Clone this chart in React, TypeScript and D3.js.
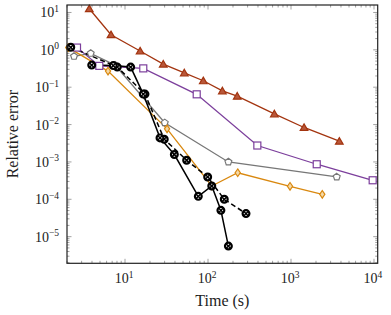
import React from "react";
import * as d3 from "d3";

const brownTime = [3.71, 6.78, 15.2, 28.9, 51.8, 87.7, 149, 225, 630, 1436, 3820];
const brownErr = [12.6, 2.54, 0.93, 0.416, 0.243, 0.149, 0.08, 0.0577, 0.0194, 0.00836, 0.00359];

const purpleTime = [2.64, 4.9, 16.6, 73.1, 393, 2042, 9640];
const purpleErr = [1.15, 0.372, 0.319, 0.0645, 0.00275, 0.000867, 0.000323];

const grayTime = [2.43, 3.86, 7.58, 30.1, 176, 3556];
const grayErr = [0.67, 0.805, 0.391, 0.0112, 0.001, 0.000396];

const orangeTime = [2.07, 6.24, 32.1, 111, 228, 973, 2382];
const orangeErr = [1.15, 0.27, 0.00767, 0.000227, 0.000513, 0.000223, 0.000136];

const blackSolidTime = [3.97, 7.22, 11.7, 16.6, 26.4, 39.3, 76.4, 111, 143, 176];
const blackSolidErr = [0.391, 0.379, 0.346, 0.0653, 0.0044, 0.00158, 0.00012, 0.000227, 5.07e-5, 5.6e-6];

const blackDashedTime = [2.22, 8.07, 17.4, 29.7, 55.3, 99.1, 157, 287];
const blackDashedErr = [1.17, 0.346, 0.0653, 0.00406, 0.00111, 0.000396, 0.0001, 4.14e-5];

const xTickExps = [1, 2, 3, 4];
const yTickExps = [1, 0, -1, -2, -3, -4, -5];
const xLabel = "Time (s)";
const yLabel = "Relative error";

const W = 391, H = 315;
const L = 67, R = 377.7, T = 5, B = 263.3;
const FONT = "Liberation Serif, serif";

const x = d3.scaleLog().domain([Math.pow(10, 0.301), Math.pow(10, 4.0446)]).range([L, R]);
const y = d3.scaleLog().domain([Math.pow(10, -5.713), Math.pow(10, 1.2)]).range([B, T]);

const line = d3.line<[number, number]>().x(d => x(d[0])).y(d => y(d[1]));

function pts(t: number[], e: number[]): [number, number][] {
  return t.map((v, i) => [v, e[i]]);
}

function fmtExp(n: number) {
  return n < 0 ? "\u2212" + Math.abs(n) : String(n);
}

function Marker({ kind, cx, cy, color, fill }: { kind: string; cx: number; cy: number; color: string; fill: string }) {
  if (kind === "tri") {
    const r = 4.4;
    const p = [0, 1, 2].map(k => {
      const a = -Math.PI / 2 + (k * 2 * Math.PI) / 3;
      return [cx + r * Math.cos(a), cy + 0.8 + r * Math.sin(a)];
    });
    return <path d={"M" + p.map(q => q.join(",")).join("L") + "Z"} fill={fill} stroke={color} strokeWidth={1.2} />;
  }
  if (kind === "sq") {
    const s = 3.5;
    return <rect x={cx - s} y={cy - s} width={2 * s} height={2 * s} fill={fill} stroke={color} strokeWidth={1.2} />;
  }
  if (kind === "pent") {
    const r = 3.6;
    const p = [0, 1, 2, 3, 4].map(k => {
      const a = -Math.PI / 2 + (k * 2 * Math.PI) / 5;
      return [cx + r * Math.cos(a), cy + r * Math.sin(a)];
    });
    return <path d={"M" + p.map(q => q.join(",")).join("L") + "Z"} fill={fill} stroke={color} strokeWidth={1.2} />;
  }
  if (kind === "dia") {
    const hw = 2.6, hh = 3.8;
    return (
      <path
        d={`M${cx},${cy - hh}L${cx + hw},${cy}L${cx},${cy + hh}L${cx - hw},${cy}Z`}
        fill={fill}
        stroke={color}
        strokeWidth={1.2}
      />
    );
  }
  const r = 3.4;
  const d = r * 0.7;
  return (
    <g>
      <circle cx={cx} cy={cy} r={r} fill="#fff" stroke={color} strokeWidth={2.2} />
      <path d={`M${cx - d},${cy - d}L${cx + d},${cy + d}M${cx - d},${cy + d}L${cx + d},${cy - d}`} stroke={color} strokeWidth={1.5} />
    </g>
  );
}

const series = [
  { t: brownTime, e: brownErr, color: "#a3340f", fill: "#b9573a", kind: "tri", dash: "", w: 1.3 },
  { t: purpleTime, e: purpleErr, color: "#7c3f9c", fill: "#ffffff", kind: "sq", dash: "", w: 1.3 },
  { t: grayTime, e: grayErr, color: "#777777", fill: "#ffffff", kind: "pent", dash: "", w: 1.3 },
  { t: orangeTime, e: orangeErr, color: "#d9880f", fill: "#f4d9a8", kind: "dia", dash: "", w: 1.3 },
  { t: blackDashedTime, e: blackDashedErr, color: "#000000", fill: "#fff", kind: "ot", dash: "5,3", w: 1.5 },
  { t: blackSolidTime, e: blackSolidErr, color: "#000000", fill: "#fff", kind: "ot", dash: "", w: 1.5 },
];

export default function App() {
  const minorX: number[] = [];
  for (let p = 0; p <= 4; p++) for (let m = 1; m <= 9; m++) {
    const v = m * Math.pow(10, p);
    if (v >= x.domain()[0] && v <= x.domain()[1]) minorX.push(v);
  }
  const minorY: number[] = [];
  for (let p = -6; p <= 1; p++) for (let m = 1; m <= 9; m++) {
    const v = m * Math.pow(10, p);
    if (v >= y.domain()[0] && v <= y.domain()[1]) minorY.push(v);
  }
  const tickCol = "#8a8a8a";
  const textStyle = { fontFamily: FONT };
  return (
    <svg width={W} height={H} style={{ position: "absolute", left: 0, top: 0, background: "#fff" }}>
      <rect x={0} y={0} width={W} height={H} fill="#fff" />
      {minorX.map((v, i) => {
        const major = Math.abs(Math.log10(v) - Math.round(Math.log10(v))) < 1e-9;
        const len = major ? 4.5 : 2.5;
        const xx = x(v);
        return (
          <g key={"mx" + i} stroke={tickCol} strokeWidth={0.8}>
            <line x1={xx} x2={xx} y1={B} y2={B - len} />
            <line x1={xx} x2={xx} y1={T} y2={T + len} />
          </g>
        );
      })}
      {minorY.map((v, i) => {
        const major = Math.abs(Math.log10(v) - Math.round(Math.log10(v))) < 1e-9;
        const len = major ? 4.5 : 2.5;
        const yy = y(v);
        return (
          <g key={"my" + i} stroke={tickCol} strokeWidth={0.8}>
            <line x1={L} x2={L + len} y1={yy} y2={yy} />
            <line x1={R} x2={R - len} y1={yy} y2={yy} />
          </g>
        );
      })}
      {series.map((s, i) => (
        <path key={"l" + i} d={line(pts(s.t, s.e)) || ""} fill="none" stroke={s.color} strokeWidth={s.w} strokeDasharray={s.dash || undefined} />
      ))}
      {series.map((s, i) => (
        <g key={"m" + i}>
          {pts(s.t, s.e).map((p, j) => (
            <Marker key={j} kind={s.kind} cx={x(p[0])} cy={y(p[1])} color={s.color} fill={s.fill} />
          ))}
        </g>
      ))}
      <rect x={L} y={T} width={R - L} height={B - T} fill="none" stroke="#222" strokeWidth={1.2} />
      {xTickExps.map(p => (
        <text key={"xt" + p} style={textStyle} x={x(Math.pow(10, p)) - 1} y={283} textAnchor="middle" fontSize={14} fill="#222">
          10<tspan dy={-5.5} fontSize={9.5}>{fmtExp(p)}</tspan>
        </text>
      ))}
      {yTickExps.map(p => (
        <text key={"yt" + p} style={textStyle} x={59} y={y(Math.pow(10, p)) + 5} textAnchor="end" fontSize={14} fill="#222">
          10<tspan dy={-5.5} fontSize={9.5}>{fmtExp(p)}</tspan>
        </text>
      ))}
      <text style={textStyle} x={(L + R) / 2} y={306} textAnchor="middle" fontSize={16} fill="#222">{xLabel}</text>
      <text style={textStyle} transform={`translate(18,${(T + B) / 2}) rotate(-90)`} textAnchor="middle" fontSize={16} fill="#222">{yLabel}</text>
    </svg>
  );
}
